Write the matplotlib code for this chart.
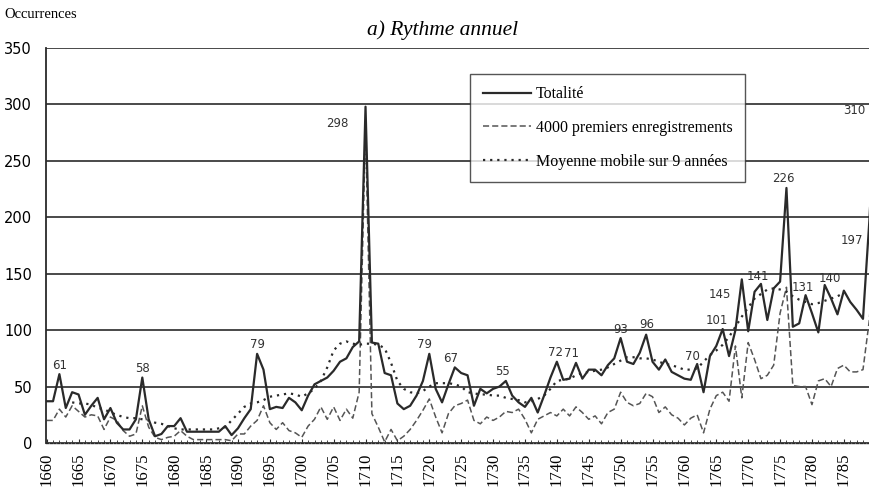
import numpy as np
import matplotlib
matplotlib.use("Agg")
import matplotlib.pyplot as plt

plt.rcParams['font.family'] = ['Liberation Serif', 'DejaVu Serif']

# Totalité (1660-1790)
years = np.arange(1660, 1791)
totalite = [
    37, 37, 61, 31, 45, 43, 25, 33, 40, 21,
    31, 18, 12, 12, 21, 58, 21, 6, 8, 15,
    15, 22, 10, 10, 10, 10, 10, 10, 15, 7,
    13, 22, 30, 79, 65, 30, 32, 31, 40, 36,
    29, 42, 52, 55, 58, 64, 72, 75, 85, 90,
    298, 89, 88, 62, 60, 35, 30, 33, 42, 55,
    79, 48, 36, 52, 67, 62, 60, 33, 48, 44,
    48, 50, 55, 42, 36, 32, 40, 27, 42, 58,
    72, 56, 57, 71, 57, 65, 65, 60, 69, 75,
    93, 72, 70, 80, 96, 72, 65, 74, 63, 60,
    57, 56, 70, 45, 77, 86, 101, 77, 100, 145,
    99, 134, 141, 109, 137, 143, 226, 103, 106, 131,
    115, 98, 140, 128, 114, 135, 125, 118, 110, 197,
    310,
]

# 4000 premiers enregistrements (1660-1790)
premiers = [
    20, 20, 30, 23, 33, 28, 23, 25, 24, 12,
    23, 20, 11, 6, 8, 33, 14, 5, 3, 5,
    6, 11, 6, 3, 3, 3, 3, 3, 3, 2,
    8, 8, 15, 20, 33, 18, 12, 18, 11, 9,
    5, 15, 21, 32, 21, 32, 20, 30, 22, 45,
    280, 26, 14, 1, 12, 2, 6, 12, 20, 29,
    39, 23, 9, 26, 33, 35, 38, 20, 17, 23,
    20, 23, 28, 27, 30, 21, 9, 21, 24, 27,
    24, 30, 24, 32, 27, 21, 24, 17, 27, 30,
    45, 36, 33, 35, 44, 41, 27, 32, 25, 22,
    16, 22, 25, 9, 30, 42, 45, 37, 86, 40,
    89, 74, 57, 60, 69, 115, 138, 51, 50, 50,
    34, 55, 57, 50, 66, 69, 63, 63, 65, 109,
    200,
]

# Moyenne mobile sur 9 années (1664-1785)
mm_years = np.arange(1664, 1786)
moyenne = [
    36, 35, 35, 34, 31, 30, 27, 25, 23, 22,
    22, 21, 20, 18, 17, 15, 13, 12, 12, 12,
    12, 12, 12, 13, 14, 20, 26, 32, 35, 36,
    38, 41, 42, 43, 44, 43, 41, 44, 48, 55,
    67, 82, 88, 90, 88, 87, 88, 88, 87, 84,
    71, 55, 48, 45, 44, 46, 50, 53, 53, 53,
    52, 50, 45, 44, 43, 43, 42, 42, 40, 39,
    38, 36, 37, 39, 42, 48, 55, 56, 57, 60,
    62, 63, 64, 65, 67, 70, 73, 76, 76, 75,
    75, 74, 72, 70, 69, 67, 65, 65, 66, 72,
    78, 82, 87, 94, 103, 112, 120, 128, 132, 136,
    137, 136, 134, 130, 127, 125, 123, 124, 126, 128,
    130, 133,
]

# labelled peaks: (year, dx px, dy px)
peak_labels = [
    (1662, 0, 9), (1675, 0, 9), (1693, 0, 9), (1710, -28, -17),
    (1720, -5, 9), (1724, -4, 9), (1732, -3, 9), (1740, -1, 9),
    (1743, -4, 9), (1750, 0, 9), (1754, 1, 10), (1762, -5, 7),
    (1766, -6, 9), (1769, -22, -15), (1772, -3, 7), (1776, -3, 9),
    (1779, -3, 8), (1782, 5, 6), (1789, -17, -20), (1790, -21, -17),
]

fig = plt.figure(figsize=(8.7, 4.97), dpi=100)
ax = fig.add_axes([46 / 870, 54 / 497, 824 / 870, 395 / 497])

ink = '#2a2a2a'
ax.plot(years, totalite, color=ink, lw=1.6, label='Totalité', zorder=3)
ax.plot(years, premiers, color='#555555', lw=1.1, ls=(0, (4, 2)),
        label='4000 premiers enregistrements', zorder=2)
ax.plot(mm_years, moyenne, color=ink, lw=1.6, ls=(0, (1, 2.2)),
        label='Moyenne mobile sur 9 années', zorder=2)

ax.set_xlim(1659.9, 1789.1)
ax.set_ylim(0, 350)
ax.set_yticks(np.arange(0, 351, 50))
ax.set_xticks(np.arange(1660, 1790, 5))
ax.set_xticks(np.arange(1660, 1790, 1), minor=True)
ax.grid(axis='y', color='#3a3a3a', lw=1.3)
ax.set_axisbelow(True)

for side in ['top', 'right']:
    ax.spines[side].set_visible(False)
ax.spines['left'].set_color(ink)
ax.spines['left'].set_linewidth(1.3)
ax.spines['bottom'].set_color(ink)
ax.spines['bottom'].set_linewidth(1.0)
ax.spines['bottom'].set_linestyle((0, (1.5, 1.2)))

ax.tick_params(axis='y', length=0, pad=10, labelsize=10.5)
ax.tick_params(axis='x', which='major', length=3, direction='in',
               color=ink, labelsize=12, labelrotation=90, pad=7)
ax.tick_params(axis='x', which='minor', length=2, direction='in', color=ink)
for lbl in ax.get_yticklabels():
    lbl.set_fontfamily(['DejaVu Sans'])

lookup = dict(zip(years, totalite))
for yr, dx, dy in peak_labels:
    val = lookup[yr]
    ax.annotate(str(val), xy=(yr, val), xytext=(dx, dy), textcoords='offset pixels',
                ha='center', va='center', fontsize=8.5, family=['DejaVu Sans'],
                color='#333333', annotation_clip=False)

leg = ax.legend(loc='upper left', bbox_to_anchor=(0.515, 0.935), frameon=True,
                fancybox=False, edgecolor=ink, fontsize=11.5, labelspacing=1.1,
                handlelength=3.0, handletextpad=0.3, borderpad=0.8,
                borderaxespad=0)
leg.get_frame().set_linewidth(1.0)

fig.text(443 / 870, 1 - 30 / 497, 'a) Rythme annuel', ha='center', va='center',
         fontsize=15.5, style='italic')
fig.text(4 / 870, 1 - 15 / 497, 'Occurrences', ha='left', va='center', fontsize=10.5)

fig.savefig('out.png', dpi=100)
